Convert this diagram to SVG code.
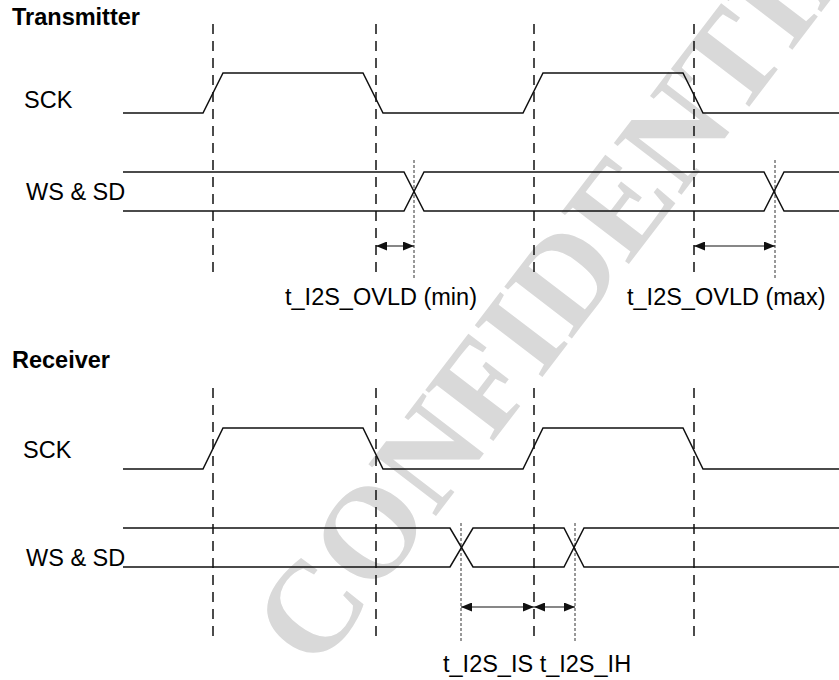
<svg xmlns="http://www.w3.org/2000/svg" width="839" height="680" viewBox="0 0 839 680">
<defs>
<style>
.t{font-family:"Liberation Sans",Arial,sans-serif;font-size:23.5px;fill:#000}
.b{font-weight:bold}
.w{fill:none;stroke:#111;stroke-width:1.5;stroke-linejoin:miter}
.d{stroke:#111;stroke-width:1.5;stroke-dasharray:10 7}
.f{stroke:#333;stroke-width:1;stroke-dasharray:3 2}
.a{stroke:#111;stroke-width:1.2;marker-start:url(#h);marker-end:url(#h)}
.wm{font-family:"Liberation Serif","Times New Roman",serif;font-size:130px;font-weight:bold;fill:#d9d9d9}
</style>
<marker id="h" viewBox="0 0 11 9" refX="11" refY="4.5" markerWidth="11" markerHeight="9" markerUnits="userSpaceOnUse" orient="auto-start-reverse">
<path d="M0,0 L11,4.5 L0,9 Z" fill="#111"/>
</marker>
</defs>
<rect width="839" height="680" fill="#fff"/>
<g id="watermark">
<text class="wm" transform="translate(316,673) rotate(-52.6)">CONFIDENTIAL</text>
</g>
<g id="transmitter">
<text class="t b" x="12" y="25">Transmitter</text>
<g id="tx-guides">
<line class="d" x1="213" y1="24" x2="213" y2="274"/>
<line class="d" x1="376" y1="24" x2="376" y2="274"/>
<line class="d" x1="534" y1="24" x2="534" y2="274"/>
<line class="d" x1="694" y1="24" x2="694" y2="274"/>
<line class="f" x1="414" y1="160" x2="414" y2="278"/>
<line class="f" x1="775" y1="160" x2="775" y2="278"/>
</g>
<g id="tx-sck">
<text class="t" x="24" y="107.5">SCK</text>
<path class="w" d="M123,113 H203 L223,73 H363 L383,113 H523 L543,73 H683 L703,113 H839"/>
</g>
<g id="tx-wssd">
<text class="t" x="26" y="200">WS &amp; SD</text>
<path class="w" d="M123,172 H404 L424,211 H764 L784,172 H839"/>
<path class="w" d="M123,211 H404 L424,172 H764 L784,211 H839"/>
</g>
<text class="t" x="285" y="305">t_I2S_OVLD (min)</text>
<text class="t" x="627" y="305">t_I2S_OVLD (max)</text>
</g>
<g id="receiver">
<text class="t b" x="12" y="368">Receiver</text>
<g id="rx-guides">
<line class="d" x1="213" y1="388" x2="213" y2="638"/>
<line class="d" x1="376" y1="388" x2="376" y2="638"/>
<line class="d" x1="534" y1="388" x2="534" y2="638"/>
<line class="d" x1="694" y1="388" x2="694" y2="638"/>
<line class="f" x1="461" y1="523" x2="461" y2="643"/>
<line class="f" x1="575" y1="523" x2="575" y2="643"/>
</g>
<g id="rx-sck">
<text class="t" x="23" y="458">SCK</text>
<path class="w" d="M123,469 H203 L223,428 H363 L383,469 H523 L543,428 H683 L703,469 H839"/>
</g>
<g id="rx-wssd">
<text class="t" x="26" y="566">WS &amp; SD</text>
<path class="w" d="M123,528 H450 L473,567 H564 L584,528 H839"/>
<path class="w" d="M123,567 H450 L473,528 H564 L584,567 H839"/>
</g>
<text class="t" x="443" y="672">t_I2S_IS t_I2S_IH</text>
</g>
<g id="connectors">
<line class="a" x1="376" y1="246" x2="414" y2="246"/>
<line class="a" x1="694" y1="246" x2="775" y2="246"/>
<line class="a" x1="461" y1="607" x2="534" y2="607"/>
<line class="a" x1="534" y1="607" x2="575" y2="607"/>
</g>
</svg>
